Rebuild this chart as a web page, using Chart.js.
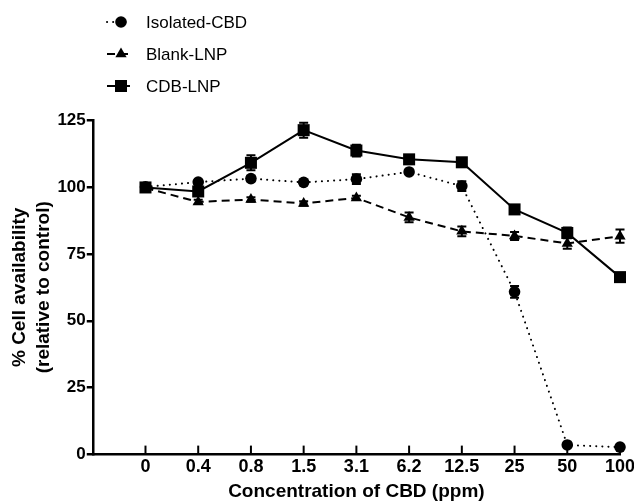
<!DOCTYPE html>
<html>
<head>
<meta charset="utf-8">
<script src="https://cdn.jsdelivr.net/npm/chart.js@4"></script>
<style>
  html, body { margin: 0; padding: 0; background: #fff; }
  #wrap { width: 634px; height: 504px; }
</style>
</head>
<body>
<div id="wrap"><canvas id="cellChart" width="634" height="504"></canvas></div>
<script>
const concentrations = ["0", "0.4", "0.8", "1.5", "3.1", "6.2", "12.5", "25", "50", "100"];

const isolatedCBD = [100, 101.8, 103.1, 101.7, 102.9, 105.6, 100.3, 60.8, 3.6, 2.8];
const isolatedErr = [0, 0.8, 1, 0.8, 1.8, 0.8, 1.8, 2.2, 0.5, 0.5];

const blankLNP = [99.6, 94.4, 95.3, 93.8, 95.9, 88.6, 83.4, 81.7, 78.9, 81.6];
const blankErr = [0, 0.8, 0.8, 0.8, 0.8, 1.8, 1.8, 1.5, 2, 2.5];

const cdbLNP = [99.8, 98.3, 109, 121.2, 113.6, 110.3, 109.2, 91.6, 82.8, 66.3];
const cdbErr = [1, 1.2, 2.8, 2.8, 2.2, 1.2, 1.5, 0.8, 2, 0.8];

const yTicks = [0, 25, 50, 75, 100, 125];

const FONT = "'Liberation Sans', Arial, sans-serif";

function toPoints(values) {
  return values.map((v, i) => ({ x: i, y: v }));
}

// error bars with caps, drawn under the markers
const errorBars = {
  id: "errorBars",
  beforeDatasetsDraw(chart) {
    const ctx = chart.ctx;
    const yScale = chart.scales.y;
    ctx.save();
    ctx.strokeStyle = "#000";
    ctx.lineWidth = 2;
    chart.data.datasets.forEach((ds, di) => {
      const meta = chart.getDatasetMeta(di);
      meta.data.forEach((pt, i) => {
        const err = ds.errors[i];
        if (!err) return;
        const v = ds.data[i].y;
        const top = yScale.getPixelForValue(v + err);
        const bot = yScale.getPixelForValue(v - err);
        ctx.beginPath();
        ctx.moveTo(pt.x, top);
        ctx.lineTo(pt.x, bot);
        ctx.moveTo(pt.x - 4.5, top);
        ctx.lineTo(pt.x + 4.5, top);
        ctx.moveTo(pt.x - 4.5, bot);
        ctx.lineTo(pt.x + 4.5, bot);
        ctx.stroke();
      });
    });
    ctx.restore();
  }
};

// x-axis tick marks point up into the plot
const innerTicks = {
  id: "innerTicks",
  afterDraw(chart) {
    const ctx = chart.ctx;
    const x = chart.scales.x;
    const base = chart.chartArea.bottom;
    ctx.save();
    ctx.strokeStyle = "#000";
    ctx.lineWidth = 2;
    concentrations.forEach((c, i) => {
      const px = x.getPixelForValue(i);
      ctx.beginPath();
      ctx.moveTo(px, base);
      ctx.lineTo(px, base - 9);
      ctx.stroke();
    });
    ctx.restore();
  }
};

// legend drawn by hand: line sample + marker + label
const sampleLegend = {
  id: "sampleLegend",
  afterDraw(chart) {
    const ctx = chart.ctx;
    const rows = [22, 54, 86];
    const x0 = 107, x1 = 130, xm = 121;
    ctx.save();
    chart.data.datasets.forEach((ds, i) => {
      const y = rows[i];
      ctx.strokeStyle = "#000";
      ctx.lineWidth = 2;
      ctx.lineCap = ds.borderCapStyle || "butt";
      ctx.setLineDash(ds.borderDash || []);
      ctx.beginPath();
      ctx.moveTo(x0, y);
      ctx.lineTo(x1, y);
      ctx.stroke();
      ctx.setLineDash([]);
      ctx.fillStyle = "#000";
      Chart.helpers.drawPoint(ctx, {
        pointStyle: ds.pointStyle,
        radius: ds.pointRadius,
        borderWidth: 0
      }, xm, y);
      ctx.font = "17px " + FONT;
      ctx.textBaseline = "middle";
      ctx.fillText(ds.label, 146, y + 1);
    });
    ctx.restore();
  }
};

const ctx = document.getElementById("cellChart").getContext("2d");

new Chart(ctx, {
  type: "line",
  data: {
    datasets: [
      {
        label: "Isolated-CBD",
        data: toPoints(isolatedCBD),
        errors: isolatedErr,
        borderColor: "#000",
        backgroundColor: "#000",
        borderWidth: 2,
        borderDash: [0.1, 6],
        borderCapStyle: "round",
        pointStyle: "circle",
        pointRadius: 5.8,
        pointBorderWidth: 0,
        clip: false,
        order: 1
      },
      {
        label: "Blank-LNP",
        data: toPoints(blankLNP),
        errors: blankErr,
        borderColor: "#000",
        backgroundColor: "#000",
        borderWidth: 2,
        borderDash: [8, 5],
        pointStyle: "triangle",
        pointRadius: 6.5,
        pointBorderWidth: 0,
        clip: false,
        order: 2
      },
      {
        label: "CDB-LNP",
        data: toPoints(cdbLNP),
        errors: cdbErr,
        borderColor: "#000",
        backgroundColor: "#000",
        borderWidth: 2,
        pointStyle: "rect",
        pointRadius: 8.5,
        pointBorderWidth: 0,
        clip: false,
        order: 0
      }
    ]
  },
  options: {
    responsive: false,
    animation: false,
    layout: { padding: { top: 120, left: 7, right: 14, bottom: 1 } },
    plugins: {
      legend: { display: false },
      tooltip: { enabled: false }
    },
    scales: {
      x: {
        type: "linear",
        min: -1,
        max: 9,
        afterBuildTicks: (scale) => {
          scale.ticks = concentrations.map((c, i) => ({ value: i }));
        },
        afterFit: (scale) => {
          scale.paddingRight = 0; // let "100" run off the edge like the original
        },
        ticks: {
          callback: (v) => concentrations[v] ?? "",
          color: "#000",
          font: { family: FONT, size: 18, weight: "bold" },
          maxRotation: 0,
          autoSkip: false,
          padding: 2
        },
        grid: { display: false, drawTicks: false },
        border: { display: true, color: "#000", width: 2.5 },
        title: {
          display: true,
          text: "Concentration of CBD (ppm)",
          color: "#000",
          font: { family: FONT, size: 19, weight: "bold" },
          padding: { top: 0, bottom: 0 }
        }
      },
      y: {
        min: 0,
        max: 125,
        afterBuildTicks: (scale) => {
          scale.ticks = yTicks.map(v => ({ value: v }));
        },
        ticks: {
          color: "#000",
          font: { family: FONT, size: 17, weight: "bold" },
          padding: 1
        },
        grid: {
          drawOnChartArea: false,
          drawTicks: true,
          tickLength: 6,
          color: "#000",
          lineWidth: 2.5
        },
        border: { display: true, color: "#000", width: 2.5 },
        title: {
          display: true,
          text: ["% Cell availability", "(relative to control)"],
          color: "#000",
          font: { family: FONT, size: 19, weight: "bold", lineHeight: 1.3 },
          padding: { top: 0, bottom: 0 }
        }
      }
    }
  },
  plugins: [errorBars, innerTicks, sampleLegend]
});
</script>
</body>
</html>
